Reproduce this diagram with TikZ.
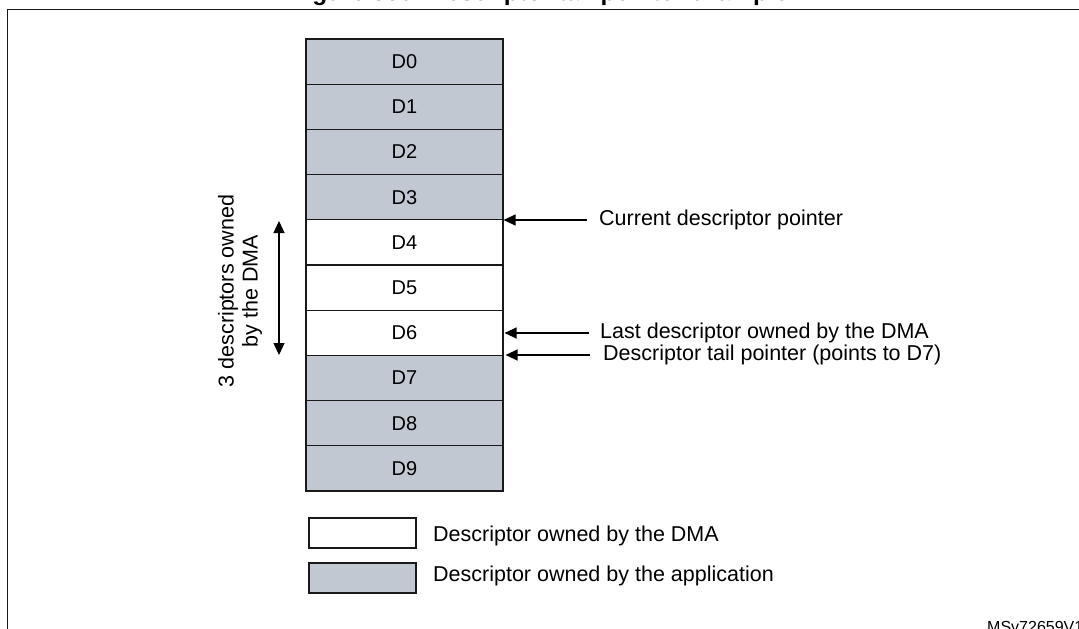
\documentclass[tikz,border=0pt]{standalone}
\usepackage{fontspec}
\setmainfont{Liberation Sans}
\usepackage{tikz}
\usetikzlibrary{arrows.meta}
\definecolor{appgray}{RGB}{193,200,209}
\definecolor{linegray}{RGB}{25,25,25}
\tikzset{>/.tip={Triangle[length=12pt,width=11pt]},
  desc/.style={draw=linegray, line width=1.2pt, minimum width=197pt, minimum height=45.2pt, inner sep=0pt, font=\fontsize{20}{24}\selectfont},
  appdesc/.style={desc, fill=appgray},
  dmadesc/.style={desc, fill=white},
  lbl/.style={inner sep=0pt, font=\fontsize{21.5}{24}\selectfont}}

\begin{document}
\begin{tikzpicture}[x=1pt,y=-1pt]
\useasboundingbox (0,0) rectangle (1079,629);
\clip (0,0) rectangle (1079,629);
\node (title) [anchor=base, inner sep=0pt, font=\fontsize{24.5}{28}\bfseries] at (539.5,0.5) {Figure 550. Descriptor tail pointer example};
\draw[line width=1.5pt, linegray] (7.5,640) -- (7.5,9.7) -- (1090,9.7);

\node (D0) [appdesc] at (404.5,61.6) {D0};
\node (D1) [appdesc] at (404.5,106.8) {D1};
\node (D2) [appdesc] at (404.5,152) {D2};
\node (D3) [appdesc] at (404.5,197.2) {D3};
\node (D4) [dmadesc] at (404.5,242.4) {D4};
\node (D5) [dmadesc] at (404.5,287.6) {D5};
\node (D6) [dmadesc] at (404.5,332.8) {D6};
\node (D7) [appdesc] at (404.5,378) {D7};
\node (D8) [appdesc] at (404.5,423.2) {D8};
\node (D9) [appdesc] at (404.5,468.4) {D9};

\node (curptr) [lbl, anchor=west] at (599,220) {Current descriptor pointer};
\node (lastdma) [lbl, anchor=west] at (600,333) {Last descriptor owned by the DMA};
\node (tailptr) [lbl, anchor=west] at (603,355) {Descriptor tail pointer (points to D7)};

\node (ownlbl) [lbl, rotate=90, align=center] at (240,291) {3 descriptors owned\\by the DMA};
\coordinate (spantop) at (279,221);
\coordinate (spanbot) at (279,355);

\path[->,line width=1.3pt,shorten <=12pt] (curptr.west) edge (curptr.west -| D4.east);
\path[->,line width=1.3pt,shorten <=11pt,shorten >=1pt] (lastdma.west) edge (lastdma.west -| D6.east);
\path[->,line width=1.3pt,shorten <=13pt,shorten >=2pt] (tailptr.west) edge (tailptr.west -| D7.east);
\path[<->,line width=1.3pt] (spantop) edge (spanbot);

\node (dmakey) [dmadesc, minimum width=107pt, minimum height=30pt] at (362.5,533) {};
\node (appkey) [appdesc, minimum width=107pt, minimum height=30pt] at (362.5,578) {};
\node (dmatxt) [lbl, anchor=west] at (433,536) {Descriptor owned by the DMA};
\node (apptxt) [lbl, anchor=west] at (433,576) {Descriptor owned by the application};

\node (figid) [anchor=base west, inner sep=0pt, font=\fontsize{16}{18}\selectfont] at (987,632) {MSv72659V1};
\end{tikzpicture}
\end{document}
